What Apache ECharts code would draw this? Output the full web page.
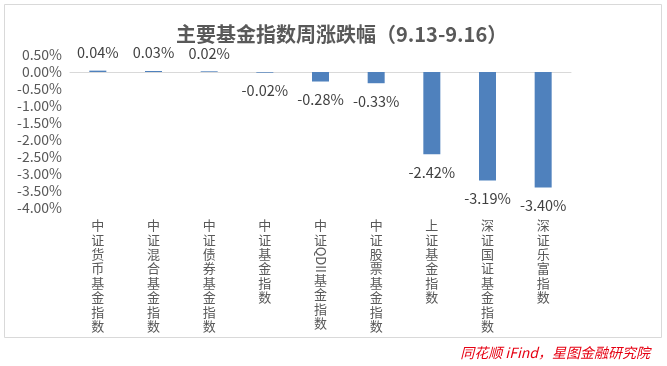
<!DOCTYPE html>
<html>
<head>
<meta charset="utf-8">
<script src="https://cdn.jsdelivr.net/npm/echarts@6/dist/echarts.min.js"></script>
<style>html,body{margin:0;padding:0;background:#fff}#c{width:667px;height:366px}</style>
</head>
<body>
<div id="c"></div>
<script>
const categories = ['中证货币基金指数','中证混合基金指数','中证债券基金指数','中证基金指数','中证QDII基金指数','中证股票基金指数','上证基金指数','深证国证基金指数','深证乐富指数'];
const values = [0.04, 0.03, 0.02, -0.02, -0.28, -0.33, -2.42, -3.19, -3.40];
const yMin = -4, yMax = 0.5, yStep = 0.5;

const chart = echarts.init(document.getElementById('c'));
const font = '"Noto Sans CJK SC", "Microsoft YaHei", sans-serif';
const LH = 14.4, LATIN_H = 26;

function splitLabel(v) {
  const out = [];
  const m = v.match(/^([^A-Za-z]*)([A-Za-z]+)(.*)$/);
  if (m) {
    m[1].split('').forEach(function (ch) { out.push('{c|' + ch + '}'); });
    out.push('{g| }');
    m[3].split('').forEach(function (ch) { out.push('{c|' + ch + '}'); });
  } else {
    v.split('').forEach(function (ch) { out.push('{c|' + ch + '}'); });
  }
  return out.join('\n');
}

chart.setOption({
  animation: false,
  textStyle: {fontFamily: font},
  title: {
    text: '主要基金指数周涨跌幅（9.13-9.16）',
    left: 171, top: 19,
    textStyle: {fontSize: 20, fontWeight: 'bold', color: '#595959', fontFamily: font}
  },
  grid: {left: 70, right: 96, top: 55, bottom: 158},
  xAxis: [
    {type: 'category', data: categories, axisLine: {onZero: true, lineStyle: {color: '#d9d9d9'}}, axisTick: {show: false}, axisLabel: {show: false}},
    {type: 'category', data: categories, position: 'bottom', axisLine: {show: false, onZero: false}, axisTick: {show: false},
     axisLabel: {
       interval: 0, margin: 10, color: '#595959', fontSize: 13,
       formatter: splitLabel,
       rich: {
         c: {fontSize: 13, lineHeight: LH, color: '#595959'},
         g: {fontSize: 13, lineHeight: LATIN_H, color: '#595959'}
       }
     }}
  ],
  yAxis: {
    type: 'value', min: yMin, max: yMax, interval: yStep,
    splitLine: {show: false}, axisLine: {show: false}, axisTick: {show: false},
    axisLabel: {color: '#595959', fontSize: 14, margin: 8, formatter: function (v) { return v.toFixed(2) + '%'; }}
  },
  series: [{
    type: 'bar', xAxisIndex: 0, barWidth: 17,
    itemStyle: {color: '#4f81bd'},
    data: values.map(function (v) {
      return {value: v, label: {position: v >= 0 ? 'top' : 'bottom'}};
    }),
    label: {show: true, distance: 11, color: '#404040', fontSize: 14.5, formatter: function (p) { return p.value.toFixed(2) + '%'; }}
  }]
});

const graphics = [
  {id: 'frame', type: 'rect', shape: {x: 4.5, y: 4.5, width: 657, height: 333}, style: {fill: 'none', stroke: '#d9d9d9', lineWidth: 1}, z: -1},
  {id: 'source', type: 'text', right: 17, top: 346, style: {text: '同花顺 iFind，星图金融研究院', fill: '#e60012', font: 'italic 14px ' + font}}
];
// rotated Latin part of category labels (e.g. "QDII"), placed via the axis scale
categories.forEach(function (c, i) {
  const m = c.match(/^([^A-Za-z]*)([A-Za-z]+)/);
  if (!m) return;
  const px = chart.convertToPixel({xAxisIndex: 1}, c);
  const yBottom = chart.convertToPixel({yAxisIndex: 0}, yMin);
  const yTop = yBottom + 10 + m[1].length * LH;
  graphics.push({id: 'latin' + i, type: 'text', x: px, y: yTop + LATIN_H / 2, rotation: -Math.PI / 2,
    style: {text: m[2], fill: '#595959', font: '13px ' + font, align: 'center', verticalAlign: 'middle'}});
});
chart.setOption({graphic: graphics});
</script>
</body>
</html>
